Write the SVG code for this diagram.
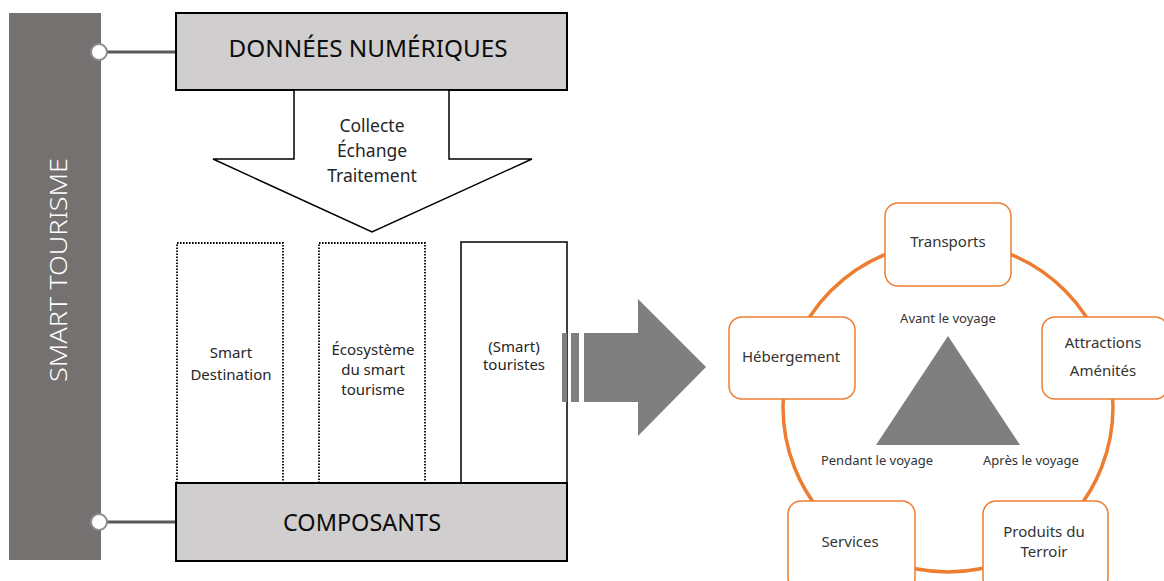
<svg xmlns="http://www.w3.org/2000/svg" width="1164" height="581" viewBox="0 0 1164 581">
<style>
text{font-family:"Noto Sans","Open Sans",sans-serif;}
.dark{fill:#262626;}
.gbox{fill:#d0cece;stroke:#000;stroke-width:2;}
.dot{fill:none;stroke:#000;stroke-width:1.8;stroke-dasharray:1.6 1.4;}
.obox{fill:#fff;stroke:#ed7d31;stroke-width:1.5;}
.otxt{font-size:15px;fill:#333;text-anchor:middle;}
.small{font-size:13px;fill:#333;text-anchor:middle;}
.lbl{font-size:15px;fill:#262626;text-anchor:middle;}
.gray{fill:#7f7f7f;}
.conn{stroke:#595959;stroke-width:3;}
.knob{fill:#fff;stroke:#8c8c8c;stroke-width:2;}
</style>
<rect width="1164" height="581" fill="#fff"/>

<g id="smart-tourisme">
<rect x="9" y="13" width="92" height="547" fill="#767171"/>
<text transform="translate(67,270) rotate(-90)" text-anchor="middle" font-size="24.5" font-weight="300" fill="#fff" textLength="224" lengthAdjust="spacingAndGlyphs">SMART TOURISME</text>
</g>

<g id="connectors">
<line class="conn" x1="105" y1="52" x2="176" y2="52"/>
<circle class="knob" cx="99" cy="52" r="8"/>
<line class="conn" x1="105" y1="522" x2="176" y2="522"/>
<circle class="knob" cx="99" cy="522" r="8"/>
</g>

<g id="donnees">
<rect class="gbox" x="176" y="13" width="391" height="77"/>
<text x="368" y="57" text-anchor="middle" font-size="23" fill="#0d0d0d" textLength="279" lengthAdjust="spacingAndGlyphs">DONNÉES NUMÉRIQUES</text>
</g>

<g id="down-arrow">
<polygon points="294,90 449,90 449,159 532,159 372,232 213,159 294,159" fill="#fff" stroke="#000" stroke-width="1.5" stroke-linejoin="miter"/>
<text class="dark" x="372" y="132" text-anchor="middle" font-size="17.5">Collecte</text>
<text class="dark" x="372" y="157" text-anchor="middle" font-size="17.5">Échange</text>
<text class="dark" x="372" y="182" text-anchor="middle" font-size="17.5">Traitement</text>
</g>

<g id="smart-destination">
<rect class="dot" x="177" y="243" width="106" height="245"/>
<text class="lbl" x="231" y="358">Smart</text>
<text class="lbl" x="231" y="380">Destination</text>
</g>

<g id="ecosysteme">
<rect class="dot" x="319" y="243" width="106" height="245"/>
<text class="lbl" x="373" y="355">Écosystème</text>
<text class="lbl" x="373" y="375">du smart</text>
<text class="lbl" x="373" y="395">tourisme</text>
</g>

<g id="touristes">
<rect x="461" y="242" width="106" height="246" fill="#fff" stroke="#000" stroke-width="1.5"/>
<text class="lbl" x="514" y="352">(Smart)</text>
<text class="lbl" x="514" y="370">touristes</text>
</g>

<g id="composants">
<rect class="gbox" x="176" y="483" width="391" height="78"/>
<text x="362" y="531" text-anchor="middle" font-size="23" fill="#0d0d0d" textLength="158" lengthAdjust="spacingAndGlyphs">COMPOSANTS</text>
</g>

<g id="right-arrow">
<rect class="gray" x="562" y="333" width="5" height="69"/>
<rect class="gray" x="571" y="333" width="8" height="69"/>
<polygon class="gray" points="584,333 638,333 638,299 706,367 638,436 638,402 584,402"/>
</g>

<g id="cycle">
<circle cx="948" cy="407" r="165" fill="none" stroke="#ed7d31" stroke-width="3.5"/>
</g>

<g id="triangle">
<polygon class="gray" points="948,336 1020,445 876,445"/>
<text class="small" x="948" y="323">Avant le voyage</text>
<text class="small" x="877" y="465">Pendant le voyage</text>
<text class="small" x="1031" y="465">Après le voyage</text>
</g>

<g id="transports">
<rect class="obox" x="885" y="203" width="126" height="83" rx="13"/>
<text class="otxt" x="948" y="247">Transports</text>
</g>

<g id="hebergement">
<rect class="obox" x="729" y="317" width="126" height="82" rx="13"/>
<text class="otxt" x="791" y="362">Hébergement</text>
</g>

<g id="attractions">
<rect class="obox" x="1042" y="317" width="126" height="82" rx="13"/>
<text class="otxt" x="1103" y="348">Attractions</text>
<text class="otxt" x="1103" y="376">Aménités</text>
</g>

<g id="services">
<rect class="obox" x="788" y="501" width="127" height="90" rx="13"/>
<text class="otxt" x="850" y="547">Services</text>
</g>

<g id="produits">
<rect class="obox" x="983" y="501" width="125" height="90" rx="13"/>
<text class="otxt" x="1044" y="537">Produits du</text>
<text class="otxt" x="1044" y="557">Terroir</text>
</g>
</svg>
